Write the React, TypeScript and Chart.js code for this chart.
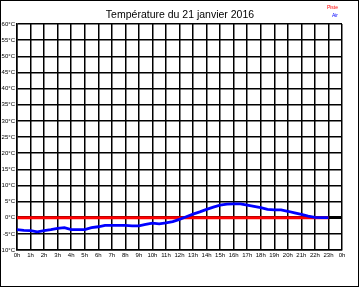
import React, { useEffect, useRef } from "react";
import { Chart, registerables } from "chart.js";

Chart.register(...registerables);

const titleText = "Température du 21 janvier 2016";
const seriesNames = ["Piste", "Air"];

const hours = [
  0, 0.5, 1, 1.5, 2, 2.5, 3, 3.5, 4, 4.5, 5, 5.5, 6, 6.5, 7, 7.5, 8, 8.5, 9, 9.5,
  10, 10.5, 11, 11.5, 12, 12.5, 13, 13.5, 14, 14.5, 15, 15.5, 16, 16.5, 17, 17.5,
  18, 18.5, 19, 19.5, 20, 20.5, 21, 21.5, 22, 22.5, 23,
];

const airValues = [
  -3.7, -3.9, -4.0, -4.4, -4.0, -3.7, -3.3, -3.1, -3.7, -3.7, -3.7, -3.1, -2.8,
  -2.4, -2.4, -2.4, -2.4, -2.5, -2.5, -2.1, -1.7, -1.9, -1.6, -1.2, -0.5, 0.3,
  1.1, 1.8, 2.6, 3.3, 3.9, 4.2, 4.3, 4.3, 3.9, 3.5, 3.1, 2.6, 2.4, 2.4, 2.0,
  1.5, 1.0, 0.5, 0.1, 0.0, 0.0,
];

const pisteValues = [
  0, 0, 0, 0, 0, 0, 0, 0, 0, 0, 0, 0, 0, 0, 0, 0, 0, 0, 0, 0, 0, 0, 0, 0, 0, 0,
  0, 0, 0, 0, 0, 0, 0, 0, 0, 0, 0, 0, 0, 0, 0, 0, 0, 0, 0, 0, 0,
];

const xTickLabels = [
  "0h", "1h", "2h", "3h", "4h", "5h", "6h", "7h", "8h", "9h", "10h", "11h",
  "12h", "13h", "14h", "15h", "16h", "17h", "18h", "19h", "20h", "21h", "22h",
  "23h", "0h",
];

const FONT = "'Liberation Sans', Arial, sans-serif";

const decorPlugin = {
  id: "decor",
  afterDraw(chart: any) {
    const ctx = chart.ctx;
    ctx.save();
    // frame
    ctx.fillStyle = "#000";
    ctx.fillRect(0, 0, 359, 1);
    ctx.fillRect(0, 0, 1, 287);
    ctx.fillRect(358, 0, 1, 287);
    ctx.fillRect(0, 286, 359, 1);
    // title
    ctx.font = `10.5px ${FONT}`;
    ctx.textAlign = "center";
    ctx.textBaseline = "alphabetic";
    ctx.fillStyle = "#000";
    ctx.fillText(titleText, 180, 17.5);
    // legend
    ctx.font = `5px ${FONT}`;
    ctx.textAlign = "right";
    ctx.fillStyle = "#ff0000";
    ctx.fillText(seriesNames[0], 338, 9);
    ctx.fillStyle = "#0000ff";
    ctx.fillText(seriesNames[1], 338, 17.3);
    ctx.restore();
  },
};

export default function App() {
  const ref = useRef<HTMLCanvasElement>(null);

  useEffect(() => {
    document.body.style.margin = "0";
    const canvas = ref.current!;
    const chart = new Chart(canvas, {
      type: "line",
      data: {
        datasets: [
          {
            label: seriesNames[1],
            data: hours.map((h, i) => ({ x: h, y: airValues[i] })),
            borderColor: "#0000ff",
            borderWidth: 2.8,
            pointRadius: 0,
            tension: 0,
            order: 0,
          },
          {
            label: seriesNames[0],
            data: hours.map((h, i) => ({ x: h, y: pisteValues[i] })),
            borderColor: "#ff0000",
            borderWidth: 3,
            pointRadius: 0,
            tension: 0,
            order: 1,
          },
        ],
      },
      options: {
        animation: false,
        responsive: false,
        devicePixelRatio: 1,
        layout: { padding: { top: 24, right: 18, left: 0, bottom: 0 } },
        plugins: {
          legend: { display: false },
          title: { display: false },
          tooltip: { enabled: false },
        },
        scales: {
          x: {
            type: "linear",
            min: 0,
            max: 24,
            afterFit: (s: any) => {
              s.height = 38;
            },
            afterBuildTicks: (s: any) => {
              s.ticks = xTickLabels.map((_, i) => ({ value: i }));
            },
            ticks: {
              stepSize: 1,
              autoSkip: false,
              maxRotation: 0,
              padding: 2,
              color: "#000",
              font: { family: FONT, size: 6 },
              callback: (v: any) => xTickLabels[Math.round(Number(v))],
            },
            grid: { color: "#000", lineWidth: 1.5, drawTicks: false },
            border: { color: "#000", width: 1.5 },
          },
          y: {
            type: "linear",
            min: -10,
            max: 60,
            afterFit: (s: any) => {
              s.width = 17;
            },
            ticks: {
              stepSize: 5,
              padding: 2,
              color: "#000",
              font: { family: FONT, size: 6 },
              callback: (v: any) => `${v}°C`,
            },
            grid: {
              color: "#000",
              lineWidth: (c: any) => (c.tick && c.tick.value === 0 ? 3 : 1.5),
              drawTicks: false,
            },
            border: { color: "#000", width: 1.5 },
          },
        },
      },
      plugins: [decorPlugin],
    });
    return () => chart.destroy();
  }, []);

  return (
    <div style={{ position: "absolute", left: 0, top: 0, width: 360, height: 288 }}>
      <canvas ref={ref} width={360} height={288} />
    </div>
  );
}
